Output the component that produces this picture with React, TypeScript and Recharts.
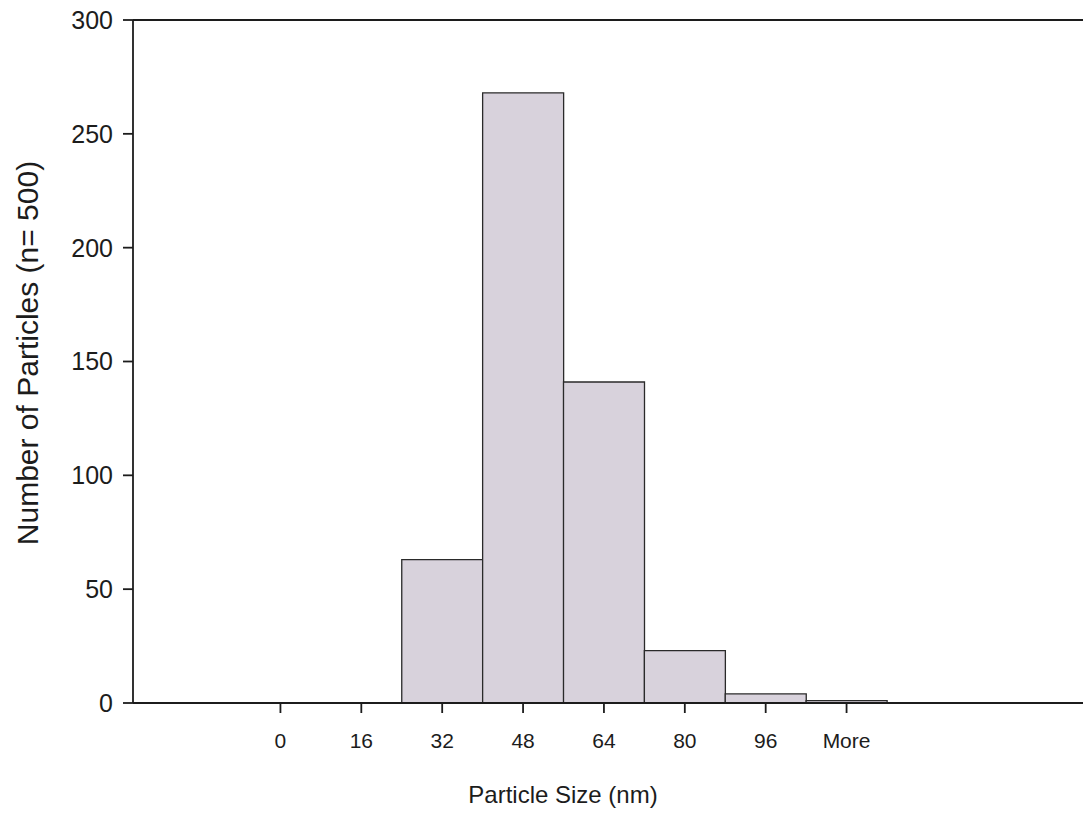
import React from "react";
import { BarChart, Bar, XAxis, YAxis, ReferenceLine, Label } from "recharts";

const categories = ["0", "16", "32", "48", "64", "80", "96", "More"];
const counts = [0, 0, 63, 268, 141, 23, 4, 1];
const yTicks = [0, 50, 100, 150, 200, 250, 300];
const xTitle = "Particle Size (nm)";
const yTitle = "Number of Particles (n= 500)";

const data = categories.map((c, i) => ({ size: c, count: counts[i] }));

const FONT = "'Liberation Sans', Arial, sans-serif";
const INK = "#1c1c1c";

export default function App() {
  return (
    <div style={{ position: "absolute", left: 0, top: 0, width: 1083, height: 815, background: "#fff" }}>
      <BarChart
        width={1083}
        height={815}
        data={data}
        margin={{ top: 20, right: 0, bottom: 0, left: 0 }}
        barCategoryGap={0}
        style={{ fontFamily: FONT }}
      >
        <XAxis
          dataKey="size"
          height={112}
          padding={{ left: 107, right: 196 }}
          tickSize={10}
          tickMargin={20}
          axisLine={{ stroke: INK, strokeWidth: 1.8 }}
          tickLine={{ stroke: INK, strokeWidth: 1.8 }}
          tick={{ fill: INK, fontSize: 21, fontFamily: FONT }}
          interval={0}
        >
          <Label
            content={() => (
              <text x={563} y={803} textAnchor="middle" fill={INK} fontSize={24} fontFamily={FONT}>
                {xTitle}
              </text>
            )}
          />
        </XAxis>
        <YAxis
          width={133}
          domain={[0, 300]}
          ticks={yTicks}
          tickSize={10}
          tickMargin={10}
          axisLine={{ stroke: INK, strokeWidth: 1.8 }}
          tickLine={{ stroke: INK, strokeWidth: 1.8 }}
          tick={{ fill: INK, fontSize: 25, fontFamily: FONT }}
          allowDataOverflow
        >
          <Label
            content={() => (
              <text
                x={27}
                y={353}
                transform="rotate(-90 27 353)"
                textAnchor="middle"
                dominantBaseline="central"
                fill={INK}
                fontSize={30}
                fontFamily={FONT}
              >
                {yTitle}
              </text>
            )}
          />
        </YAxis>
        <ReferenceLine y={300} stroke={INK} strokeWidth={1.8} />
        <Bar dataKey="count" fill="#d8d2dc" stroke="#2a2a2a" strokeWidth={1.3} isAnimationActive={false} />
      </BarChart>
    </div>
  );
}
